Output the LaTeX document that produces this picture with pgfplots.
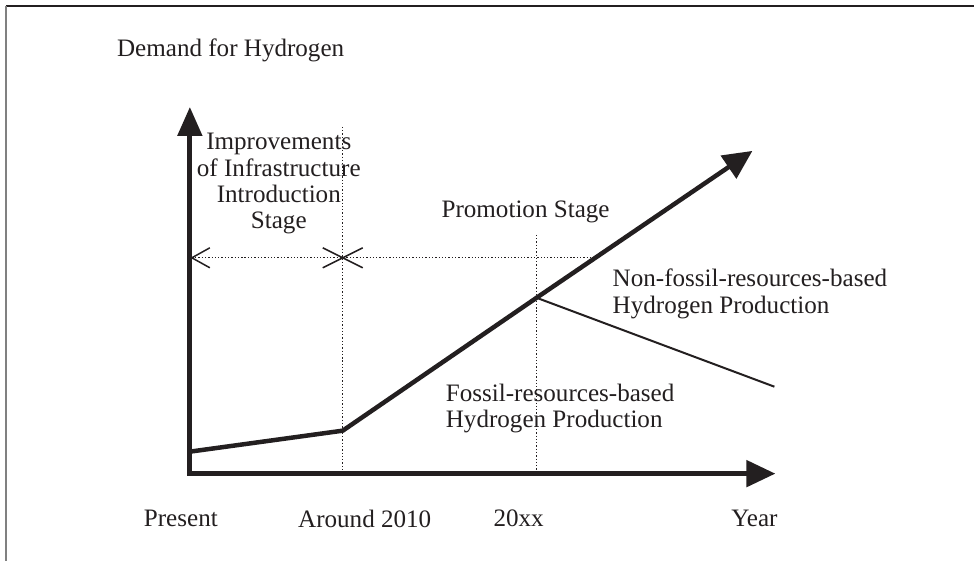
\documentclass[border=0pt]{standalone}
\usepackage{fontspec}
\setmainfont{Liberation Serif}
\usepackage{pgfplots}
\pgfplotsset{compat=1.18}
\usetikzlibrary{arrows.meta}
\definecolor{ink}{HTML}{231F20}
\tikzset{lbl/.style={font=\fontsize{25.2}{26.5}\selectfont, text=ink, inner sep=0pt}}
\begin{document}
\begin{tikzpicture}
\begin{axis}[
  width=975bp, height=561bp, scale only axis,
  xmin=0, xmax=975, ymin=0, ymax=561, y dir=reverse,
  hide axis, clip=false,
]
\path (rel axis cs:0,0) rectangle (rel axis cs:1,1);
% frame (top and left)
\addplot[ink, line width=1.5bp] coordinates {(6,6) (975,6)};
\addplot[gray, line width=2bp] coordinates {(6.5,6) (6.5,561)};
% dotted guides
\addplot[ink, line width=1.3bp, dotted] coordinates {(343,127) (343,474)};
\addplot[ink, line width=1.3bp, dotted] coordinates {(537,235) (537,474)};
\addplot[ink, line width=1.3bp, dotted] coordinates {(192,258) (597,258)};
% open arrowhead and cross
\addplot[ink, line width=1.5bp] coordinates {(210,248) (192,258) (210,268)};
\addplot[ink, line width=1.5bp] coordinates {(323,248) (363,268)};
\addplot[ink, line width=1.5bp] coordinates {(323,268) (363,248)};
% axes arrows
\addplot[ink, line width=5bp, -{Triangle[length=29bp,width=24bp]}] coordinates {(190,476) (190,107)};
\addplot[ink, line width=5bp, -{Triangle[length=29bp,width=26bp]}] coordinates {(188,474) (776,474)};
% demand line
\addplot[ink, line width=4.5bp, line join=round, -{Triangle[length=29bp,width=27bp]}] coordinates {(190,452) (343,431) (537,298) (753,151)};
% non-fossil branch
\addplot[ink, line width=2bp] coordinates {(537,298) (775,387)};
% texts
\node[lbl, anchor=west] at (axis cs:117,50) {Demand for Hydrogen};
\node[lbl, align=center] at (axis cs:279,184) {Improvements\\of Infrastructure\\Introduction\\Stage};
\node[lbl] at (axis cs:526,212) {Promotion Stage};
\node[lbl, anchor=west, align=left] at (axis cs:613,294) {Non-fossil-resources-based\\Hydrogen Production};
\node[lbl, anchor=west, align=left] at (axis cs:446,409) {Fossil-resources-based\\Hydrogen Production};
\node[lbl] at (axis cs:181,519) {Present};
\node[lbl] at (axis cs:365,519) {Around 2010};
\node[lbl] at (axis cs:519,519) {20xx};
\node[lbl] at (axis cs:755,519) {Year};
\end{axis}
\end{tikzpicture}
\end{document}
